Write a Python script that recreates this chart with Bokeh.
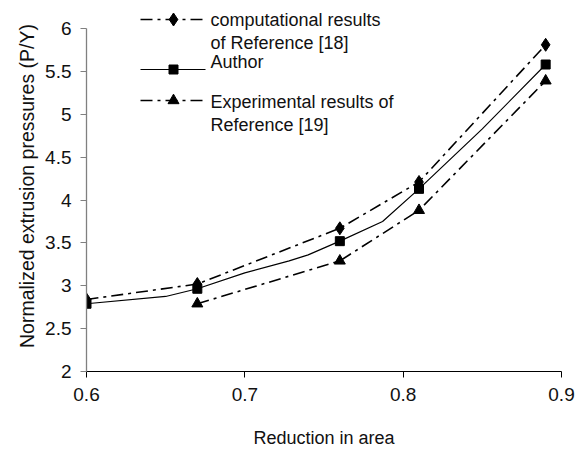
from bokeh.plotting import figure
from bokeh.models import Range1d, FixedTicker
from bokeh.core.properties import value
from bokeh.embed import file_html
from bokeh.resources import INLINE

# ---------------- data ----------------
reduction = [0.6, 0.67, 0.76, 0.81, 0.89]
comp_ref18 = [2.84, 3.02, 3.67, 4.21, 5.81]
author_marks = [2.79, 2.965, 3.52, 4.13, 5.58]
exp_x = [0.67, 0.76, 0.81, 0.89]
exp_ref19 = [2.79, 3.29, 3.88, 5.39]
# author's computed curve (finer points)
author_curve_x = [0.6, 0.65, 0.67, 0.7, 0.728, 0.74, 0.76, 0.787, 0.81, 0.85, 0.89]
author_curve_y = [2.79, 2.875, 2.965, 3.15, 3.29, 3.36, 3.52, 3.75, 4.13, 4.83, 5.58]

x_ticks = [0.6, 0.7, 0.8, 0.9]
x_tick_labels = ["0.6", "0.7", "0.8", "0.9"]
y_ticks = [2, 2.5, 3, 3.5, 4, 4.5, 5, 5.5, 6]
y_tick_labels = ["2", "2.5", "3", "3.5", "4", "4.5", "5", "5.5", "6"]

legend_labels = [["computational results", "of Reference [18]"],
                 ["Author"],
                 ["Experimental results of", "Reference [19]"]]

# ---------------- layout ----------------
W, H = 585, 453
LEFT, RIGHT_B, TOP, BOTTOM = 86, 24, 0, 82
frame_w = W - LEFT - RIGHT_B
frame_h = H - TOP - BOTTOM
px_per_y = 85.75
y_top = 6 + 28 / px_per_y
y_start = y_top - frame_h / px_per_y

FONT = value("Liberation Sans")
DASH = "12 5 3 5"

p = figure(width=W, height=H, output_backend="svg", toolbar_location=None,
           x_range=Range1d(0.6, 0.9), y_range=Range1d(y_start, y_top),
           min_border_left=LEFT, min_border_right=RIGHT_B,
           min_border_top=TOP, min_border_bottom=BOTTOM)
p.outline_line_color = None
p.grid.visible = False
p.background_fill_color = "white"
p.border_fill_color = "white"

def sx(px):
    return 0.6 + (px - LEFT) / frame_w * 0.3

def sy(py):
    return y_top - (py - TOP) / px_per_y

# series
p.line(reduction, comp_ref18, line_color="black", line_width=1.6, line_dash=DASH)
p.scatter(reduction, comp_ref18, marker="diamond", size=13, fill_color="black", line_color="black")

p.line(author_curve_x, author_curve_y, line_color="black", line_width=1.2)
p.scatter(reduction, author_marks, marker="square", size=9, fill_color="black", line_color="black")

p.line(exp_x, exp_ref19, line_color="black", line_width=1.6, line_dash=DASH)
p.scatter(exp_x, exp_ref19, marker="triangle", size=11, fill_color="black", line_color="black")

# legend (drawn manually)
rows_py = [19, 69, 100]
text_py = [[19, 42], [61], [101, 124]]
markers = ["diamond", "square", "triangle"]
msizes = [13, 9, 11]
dashes = [DASH, "solid", DASH]
for i in range(3):
    yy = sy(rows_py[i])
    p.line([sx(140), sx(205)], [yy, yy], line_color="black", line_width=1.6 if i != 1 else 1.2,
           line_dash=dashes[i])
    p.scatter([sx(173)], [yy], marker=markers[i], size=msizes[i], fill_color="black", line_color="black")
    for j, lab in enumerate(legend_labels[i]):
        p.text([sx(210)], [sy(text_py[i][j])], text=[lab], text_font=FONT, text_font_size="18px",
               text_baseline="middle", text_align="left", text_color="#111111")

# axes
p.xaxis.ticker = FixedTicker(ticks=x_ticks)
p.yaxis.ticker = FixedTicker(ticks=y_ticks)
p.xaxis.major_label_overrides = {t: l for t, l in zip(x_ticks, x_tick_labels)}
p.yaxis.major_label_overrides = {t: l for t, l in zip(y_ticks, y_tick_labels)}
p.yaxis.bounds = (2, 6)
p.xaxis.bounds = (0.6, 0.9)

for ax in (p.xaxis, p.yaxis):
    ax.minor_tick_line_color = None
    ax.major_tick_in = 0
    ax.major_tick_out = 6
    ax.major_label_text_font = "Liberation Sans"
    ax.major_label_text_font_size = "19px"
    ax.major_label_text_color = "#111111"
    ax.axis_label_text_font = "Liberation Sans"
    ax.axis_label_text_font_style = "normal"
    ax.axis_label_text_color = "#111111"

p.xaxis.axis_label_text_font_size = "18px"
p.yaxis.axis_label_text_font_size = "19.5px"

p.xaxis.axis_line_color = "black"
p.xaxis.major_tick_line_color = "black"
p.yaxis.axis_line_color = "#808080"
p.yaxis.major_tick_line_color = "#808080"
p.yaxis.axis_line_width = 1.3

p.xaxis.axis_label = "Reduction in area"
p.yaxis.axis_label = "Normalized extrusion pressures (P/Y)"
p.xaxis.major_label_standoff = 10
p.xaxis.axis_label_standoff = 24
p.yaxis.major_label_standoff = 9
p.yaxis.axis_label_standoff = 4

open("out.html", "w").write(file_html(p, INLINE))
